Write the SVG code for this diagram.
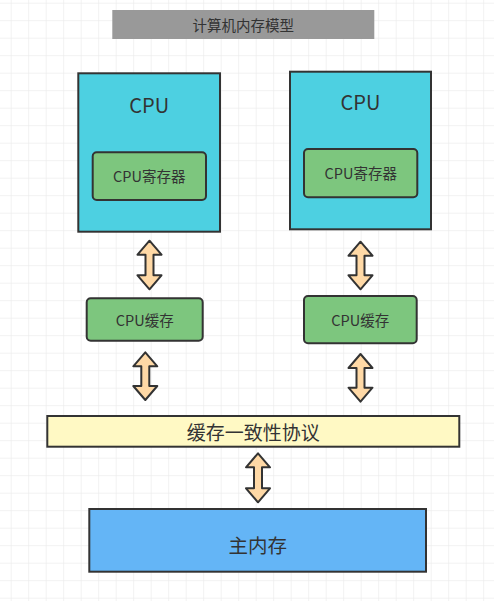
<svg xmlns="http://www.w3.org/2000/svg" width="494" height="601" viewBox="0 0 494 601">
<defs>
<pattern id="grid" x="10.7" y="2.7" width="17.5" height="17.5" patternUnits="userSpaceOnUse">
<path d="M0 0 H17.5 M0 0 V17.5" fill="none" stroke="#e6e6e6" stroke-width="1"/>
</pattern>
<style>
.box{stroke:#333;stroke-width:2}
.cpu{fill:#4dd0e1}
.green{fill:#7dc67e}
.t{font-family:"Noto Sans CJK SC","Noto Sans",sans-serif;fill:#333;text-anchor:middle;dominant-baseline:central}
.arrow{fill:#ffd9a6;stroke:#333;stroke-width:2;stroke-linejoin:round}
</style>
</defs>
<rect width="494" height="601" fill="#ffffff"/>
<rect width="494" height="601" fill="url(#grid)"/>

<g id="title">
<rect x="112.3" y="10" width="262" height="29" fill="#999999"/>
<text class="t" x="243.3" y="24.5" font-size="14.5" fill="#444">计算机内存模型</text>
</g>

<g id="cpu1">
<rect class="box cpu" x="78.3" y="73.3" width="141.7" height="158.4"/>
<text class="t" x="149.2" y="104" font-size="20">CPU</text>
</g>
<g id="reg1">
<rect class="box green" x="92.7" y="152.3" width="113.3" height="47.7" rx="4"/>
<text class="t" x="149.3" y="175.5" font-size="14.5">CPU寄存器</text>
</g>

<g id="cpu2">
<rect class="box cpu" x="290" y="71.7" width="141" height="157.6"/>
<text class="t" x="360.5" y="101.7" font-size="20">CPU</text>
</g>
<g id="reg2">
<rect class="box green" x="304" y="149" width="113.3" height="48.3" rx="4"/>
<text class="t" x="360.7" y="172.5" font-size="14.5">CPU寄存器</text>
</g>

<g id="cache1">
<rect class="box green" x="86.7" y="298.3" width="116" height="42.4" rx="4"/>
<text class="t" x="144.7" y="319.5" font-size="14.5">CPU缓存</text>
</g>
<g id="cache2">
<rect class="box green" x="304" y="296" width="112.7" height="47.3" rx="4"/>
<text class="t" x="360.3" y="319.5" font-size="14.5">CPU缓存</text>
</g>

<g id="protocol">
<rect class="box" x="47.3" y="416" width="412" height="30.7" fill="#fff9c4"/>
<text class="t" x="253.3" y="431.3" font-size="19">缓存一致性协议</text>
</g>

<g id="memory">
<rect class="box" x="89.3" y="509" width="336.7" height="62.7" fill="#64b5f6"/>
<text class="t" x="257.7" y="544" font-size="19.5">主内存</text>
</g>

<g id="connectors">
<polygon class="arrow" points="149.5,240.7 161.5,254.7 153.5,254.7 153.5,275.3 161.5,275.3 149.5,289.3 137.5,275.3 145.5,275.3 145.5,254.7 137.5,254.7"/>
<polygon class="arrow" points="145.3,352.3 157.3,366.3 149.3,366.3 149.3,386 157.3,386 145.3,400 133.3,386 141.3,386 141.3,366.3 133.3,366.3"/>
<polygon class="arrow" points="360.5,241.7 372.5,255.7 364.5,255.7 364.5,275.3 372.5,275.3 360.5,289.3 348.5,275.3 356.5,275.3 356.5,255.7 348.5,255.7"/>
<polygon class="arrow" points="360.5,354 372.5,368 364.5,368 364.5,387.7 372.5,387.7 360.5,401.7 348.5,387.7 356.5,387.7 356.5,368 348.5,368"/>
<polygon class="arrow" points="258,453.3 270,467.3 262,467.3 262,488.3 270,488.3 258,502.3 246,488.3 254,488.3 254,467.3 246,467.3"/>
</g>
</svg>
